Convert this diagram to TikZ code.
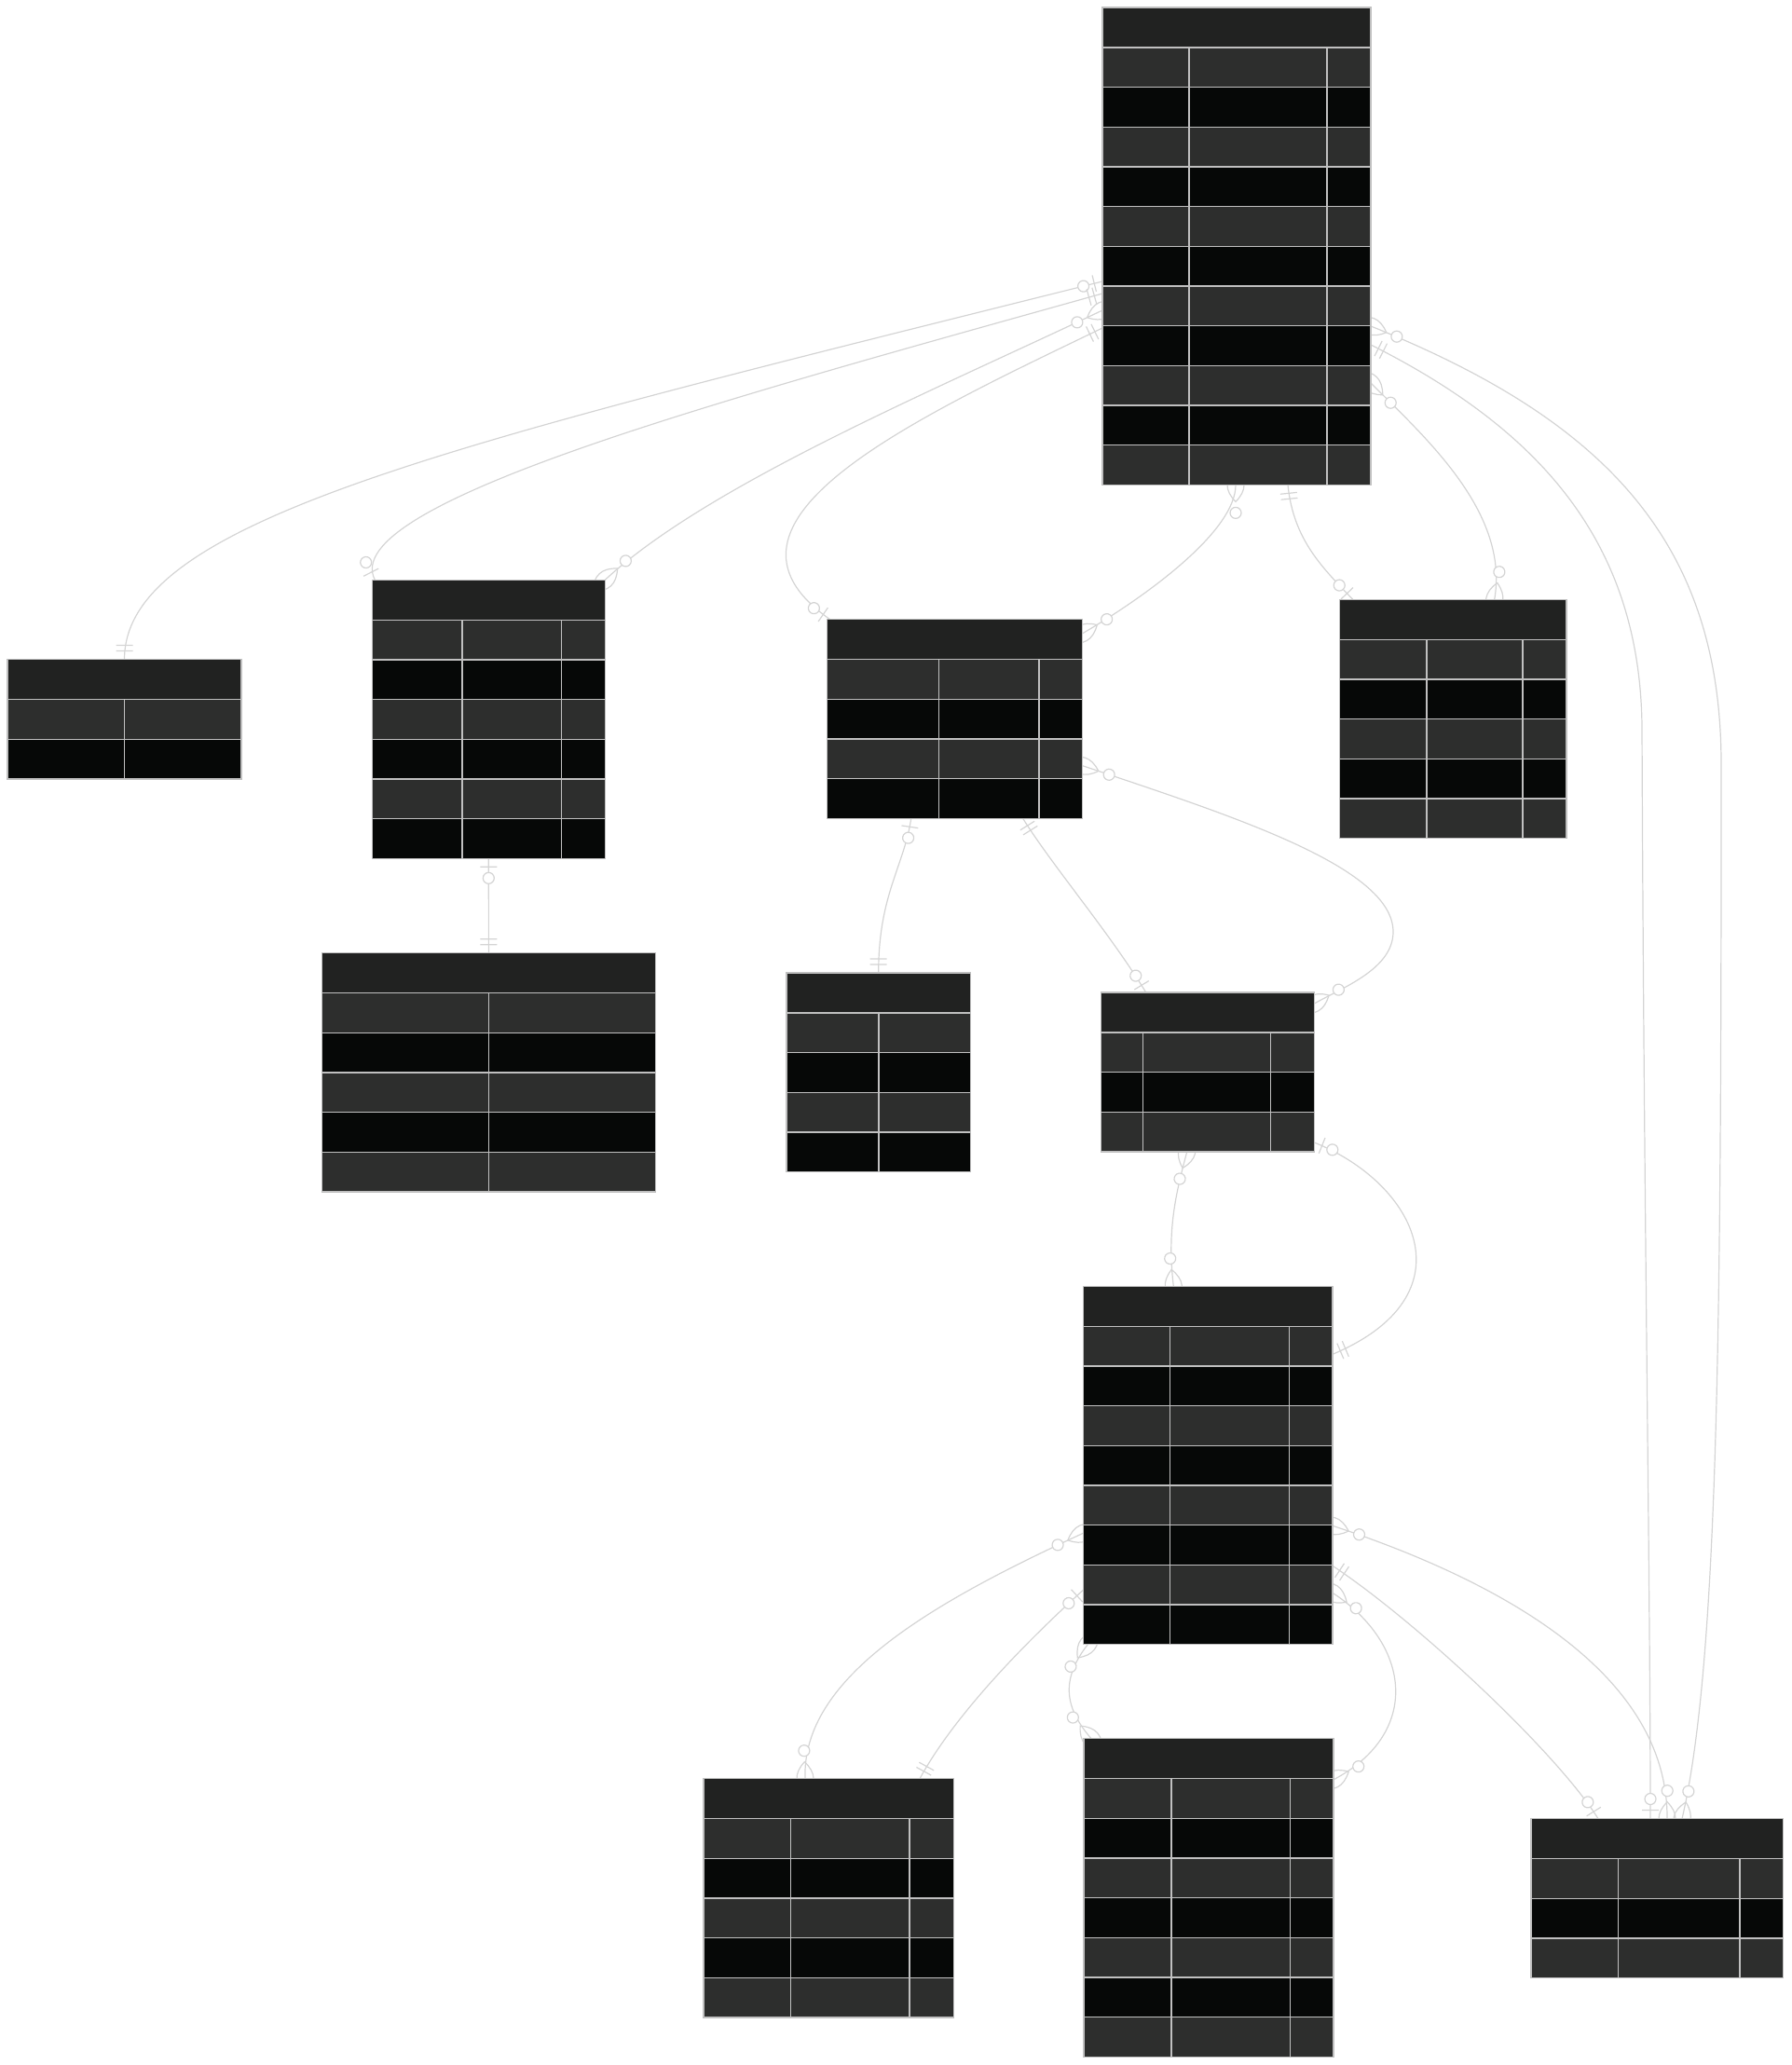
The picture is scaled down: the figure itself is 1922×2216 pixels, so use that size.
\documentclass[tikz,border=0pt]{standalone}
\usetikzlibrary{calc,decorations.markings}

\definecolor{erHead}{RGB}{33,34,33}
\definecolor{erGray}{RGB}{45,46,45}
\definecolor{erBlack}{RGB}{6,8,7}
\definecolor{erGrid}{RGB}{192,192,192}
\definecolor{erLink}{RGB}{212,212,212}

\pgfdeclarelayer{bg}
\pgfsetlayers{bg,main}

% маркеры связей (ось x идёт от таблицы)
\newcommand{\mone}{\draw[link] (9pt,-9pt) -- (9pt,9pt) (15pt,-9pt) -- (15pt,9pt);}
\newcommand{\mzoo}{\draw[link] (9pt,-9pt) -- (9pt,9pt); \draw[link,fill=white] (21pt,0) circle (6pt);}
\newcommand{\mzom}{\draw[link] (-18pt,0) .. controls (-6pt,-12pt) and (6pt,-12pt) .. (18pt,0) .. controls (6pt,12pt) and (-6pt,12pt) .. (-18pt,0);
  \draw[link,fill=white] (30pt,0) circle (6pt);}

% таблица: имя, левый край, верх, правый край, число строк, колонки
\newcommand{\ertable}[6]{%
  \pgfmathsetmacro{\erhy}{#3+43}
  \pgfmathsetmacro{\erby}{#3+43+42.67*#5}
  \node[entity, minimum width={(#4-#2)*1pt}, minimum height={(\erby-#3)*1pt}] (#1) at (#2,#3) {};
  \fill[erHead] (#2,#3) rectangle (#4,\erhy);
  \foreach \rw in {1,...,#5} {
    \ifodd\rw\relax \fill[erGray] (#2,{\erhy+42.67*(\rw-1)}) rectangle (#4,{\erhy+42.67*\rw}); \fi
    \draw[grid] (#2,{\erhy+42.67*(\rw-1)}) -- (#4,{\erhy+42.67*(\rw-1)});
  }
  \foreach \col in {#6} \draw[grid] (\col,\erhy) -- (\col,\erby);
  \draw[grid] (#2,#3) rectangle (#4,\erby);
}

\begin{document}
\begin{tikzpicture}[
        x=1pt, y=-1pt,
        entity/.style={anchor=north west, fill=erBlack, inner sep=0pt, outer sep=0pt}, % Таблица
        grid/.style={draw=erGrid, line width=1.5pt},
        link/.style={draw=erLink, line width=1.2pt}, % Связь
        src/.style={postaction={decorate, decoration={markings, mark=at position 0 with {#1}}}},
        dst/.style={postaction={decorate, decoration={markings, mark=at position 0.9999 with {\pgftransformrotate{180}#1}}}},
    ]
    \useasboundingbox (0,0) rectangle (1922,2216);

    \ertable{eHub}{1183}{8}{1471}{11}{1276,1424}
    \ertable{eLeft}{8}{707.7}{259}{2}{133.7}
    \ertable{eMidL}{399.3}{622.3}{649.3}{6}{496,602.7}
    \ertable{eLowL}{345.4}{1022.7}{703.4}{5}{524.6}
    \ertable{eMid}{887.7}{664.7}{1161.7}{4}{1007.3,1115}
    \ertable{eRight}{1437.7}{643.3}{1681}{5}{1531,1634}
    \ertable{eSmall}{844}{1044}{1041.4}{4}{943.1}
    \ertable{eJoin}{1181.7}{1065}{1410.3}{3}{1226.3,1363.3}
    \ertable{eCore}{1162.3}{1380.3}{1430}{8}{1255.3,1383.3}
    \ertable{eBotL}{755}{1908.7}{1023.4}{5}{848.5,976}
    \ertable{eBotM}{1163}{1865.7}{1431.2}{7}{1257,1384.5}
    \ertable{eBotR}{1643}{1951.7}{1913.7}{3}{1736.5,1867}

    \begin{pgfonlayer}{bg}
    % от верхней таблицы
    \draw[link, src=\mzoo, dst=\mone] ($(eHub.north west)+(0,294)$) .. controls (483,477) and (133.5,557.7) .. (eLeft.north);
    \draw[link, src=\mone, dst=\mzoo] ($(eHub.north west)+(0,307)$) .. controls (783,427) and (360,540) .. ($(eMidL.north west)+(3,0)$);
    \draw[link, src=\mzom, dst=\mzom] ($(eHub.north west)+(0,325)$) .. controls (1000,420) and (760,520) .. (eMidL.north east);
    \draw[link, src=\mone, dst=\mzoo] ($(eHub.north west)+(0,344)$) .. controls (980,450) and (740,560) .. ($(eMid.north west)+(3,0)$);
    \draw[link, src=\mzom, dst=\mzom] ($(eHub.south west)+(143,0)$) .. controls (1326,570) and (1230,640) .. ($(eMid.north east)+(0,15)$);
    \draw[link, src=\mone, dst=\mzoo] ($(eHub.south west)+(199,0)$) .. controls (1388,580) and (1420,610) .. ($(eRight.north west)+(14,0)$);
    \draw[link, src=\mzom, dst=\mzom] ($(eHub.north east)+(0,403)$) .. controls (1530,470) and (1620,550) .. ($(eRight.north west)+(166,0)$);
    \draw[link, src=\mzom, dst=\mzom] ($(eHub.north east)+(0,342)$) .. controls (1720,450) and (1847,580) .. (1847,820)
        .. controls (1847,1400) and (1845,1780) .. ($(eBotR.north west)+(162,0)$);
    \draw[link, src=\mone, dst=\mzoo] ($(eHub.north east)+(0,362)$) .. controls (1650,460) and (1760,580) .. (1762,780)
        .. controls (1764,1300) and (1771,1700) .. ($(eBotR.north west)+(128,0)$);
    % средний ряд
    \draw[link, src=\mzoo, dst=\mone] (eMidL.south) -- (eLowL.north);
    \draw[link, src=\mzoo, dst=\mone] ($(eMid.south west)+(90,0)$) .. controls (970,930) and (942.7,960) .. (eSmall.north);
    \draw[link, src=\mone, dst=\mzoo] ($(eMid.south west)+(210,0)$) .. controls (1130,930) and (1190,1000) .. ($(eJoin.north west)+(48,0)$);
    \draw[link, src=\mzom, dst=\mzom] ($(eMid.north east)+(0,157)$) .. controls (1320,875) and (1495,930) .. (1495,1000)
        .. controls (1495,1040) and (1440,1060) .. ($(eJoin.north east)+(0,12)$);
    \draw[link, src=\mzom, dst=\mzom] ($(eJoin.south west)+(92,0)$) .. controls (1262,1280) and (1252,1320) .. ($(eCore.north west)+(97,0)$);
    \draw[link, src=\mzoo, dst=\mone] ($(eJoin.south east)+(0,-10)$) .. controls (1520,1270) and (1580,1390) .. ($(eCore.north east)+(0,73)$);
    % нижний ряд
    \draw[link, src=\mzom, dst=\mzom] ($(eCore.north west)+(0,265)$) .. controls (1000,1720) and (860,1800) .. ($(eBotL.north west)+(109,0)$);
    \draw[link, src=\mzoo, dst=\mone] ($(eCore.north west)+(0,326)$) .. controls (1120,1745) and (1030,1830) .. ($(eBotL.north west)+(232,0)$);
    \draw[link, src=\mzom, dst=\mzom] ($(eCore.south west)+(5,0)$) .. controls (1140,1800) and (1140,1830) .. ($(eBotM.north west)+(8,0)$);
    \draw[link, src=\mzom, dst=\mzom] ($(eCore.north east)+(0,329)$) .. controls (1515,1765) and (1525,1860) .. ($(eBotM.north east)+(0,44)$);
    \draw[link, src=\mzom, dst=\mzom] ($(eCore.north east)+(0,257)$) .. controls (1620,1700) and (1790,1800) .. ($(eBotR.north west)+(146,0)$);
    \draw[link, src=\mone, dst=\mzoo] ($(eCore.north east)+(0,300)$) .. controls (1520,1740) and (1670,1880) .. ($(eBotR.north west)+(72,0)$);
    \end{pgfonlayer}
\end{tikzpicture}
\end{document}
